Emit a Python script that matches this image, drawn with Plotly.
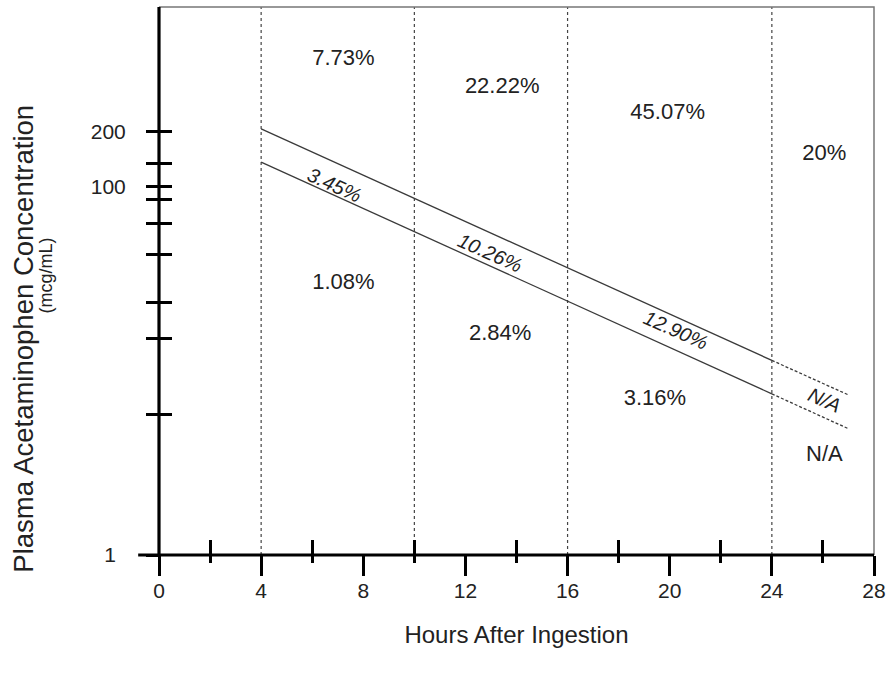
import math
import plotly.graph_objects as go

# ---- data ----
hours_major = [0, 4, 8, 12, 16, 20, 24, 28]
hours_minor = [2, 6, 10, 14, 18, 22, 26]
y_tick_vals = [1, 5.8, 15, 23.4, 43, 63, 85.7, 100, 134, 200]
y_tick_text = ["", "", "", "", "", "", "", "100", "", "200"]
boundary_hours = [4, 10, 16, 24]

line_hours = [4, 24]
ext_hours = [24, 27]
upper_line = [206, 11.4]
upper_ext = [11.4, 7.4]
lower_line = [136, 7.5]
lower_ext = [7.5, 4.85]

region_labels = ["7.73%", "22.22%", "45.07%", "20%", "1.08%", "2.84%", "3.16%", "N/A"]
region_x = [7.22, 13.44, 19.92, 26.05, 7.22, 13.36, 19.42, 26.06]
region_y = [488, 344, 251, 149, 30, 15.7, 7.03, 3.49]

band_labels = ["3.45%", "10.26%", "12.90%", "N/A"]
band_x = [6.87, 12.97, 20.23, 26.06]
band_y = [102, 43.6, 16.7, 6.95]

FONT = "Liberation Sans, Arial, Helvetica, sans-serif"
TXT = "#222222"
LINE = "#3a3a3a"

fig = go.Figure()

fig.add_trace(go.Scatter(x=line_hours, y=upper_line, mode="lines",
                         line=dict(color=LINE, width=1.3), showlegend=False, hoverinfo="skip"))
fig.add_trace(go.Scatter(x=line_hours, y=lower_line, mode="lines",
                         line=dict(color=LINE, width=1.3), showlegend=False, hoverinfo="skip"))
fig.add_trace(go.Scatter(x=ext_hours, y=upper_ext, mode="lines",
                         line=dict(color=LINE, width=1.3, dash="3px,2px"), showlegend=False, hoverinfo="skip"))
fig.add_trace(go.Scatter(x=ext_hours, y=lower_ext, mode="lines",
                         line=dict(color=LINE, width=1.3, dash="3px,2px"), showlegend=False, hoverinfo="skip"))

# region labels
fig.add_trace(go.Scatter(x=region_x, y=region_y, mode="text", text=region_labels,
                         textfont=dict(family=FONT, size=22, color=TXT),
                         showlegend=False, hoverinfo="skip"))

# band labels (italic, rotated) - annotation coords on log axis are log10
for t, bx, by in zip(band_labels, band_x, band_y):
    fig.add_annotation(x=bx, y=math.log10(by), yref="y", xref="x", text="<i>%s</i>" % t,
                       showarrow=False, textangle=24,
                       font=dict(family=FONT, size=20, color=TXT))

# shapes
shapes = []
for h in boundary_hours:
    shapes.append(dict(type="line", xref="x", yref="paper", x0=h, x1=h, y0=0, y1=1,
                       line=dict(color="#444444", width=1.2, dash="dot"), layer="below"))
shapes.append(dict(type="path", xref="paper", yref="paper", path="M 0 1 L 1 1 L 1 0",
                   line=dict(color="#777777", width=1.5)))
shapes.append(dict(type="line", xref="paper", yref="paper", x0=-21/721, x1=1, y0=0, y1=0,
                   line=dict(color="black", width=3.2)))
shapes.append(dict(type="line", xref="paper", yref="paper", x0=0, x1=0, y0=0, y1=1,
                   line=dict(color="black", width=3.2)))

fig.update_layout(
    width=893, height=674,
    margin=dict(l=159, r=13, t=7, b=119),
    paper_bgcolor="white", plot_bgcolor="white",
    shapes=shapes,
    font=dict(family=FONT, color=TXT),
    xaxis=dict(range=[0, 28], tickmode="array", tickvals=hours_major,
               ticktext=[str(h) for h in hours_major],
               ticks="outside", ticklen=20, tickwidth=3, tickcolor="black",
               showgrid=False, zeroline=False, showline=False, ticklabelstandoff=-3,
               tickfont=dict(size=21, family=FONT, color=TXT),
               title=dict(text="Hours After Ingestion", font=dict(size=24, family=FONT, color=TXT), standoff=24)),
    xaxis2=dict(range=[0, 28], overlaying="x", anchor="y", side="bottom",
                tickmode="array", tickvals=hours_minor, ticktext=[""] * len(hours_minor),
                ticks="inside", ticklen=15, tickwidth=3, tickcolor="black",
                showgrid=False, zeroline=False, showline=False),
    xaxis3=dict(range=[0, 28], overlaying="x", anchor="y", side="bottom",
                tickmode="array", tickvals=hours_minor, ticktext=[""] * len(hours_minor),
                ticks="outside", ticklen=7, tickwidth=3, tickcolor="black",
                showgrid=False, zeroline=False, showline=False),
    yaxis=dict(type="log", range=[0, 2.976], tickmode="array", tickvals=y_tick_vals,
               ticktext=y_tick_text, ticks="outside", ticklen=12, tickwidth=3, tickcolor="black",
               showgrid=False, zeroline=False, showline=False, ticklabelstandoff=16,
               tickfont=dict(size=21, family=FONT, color=TXT)),
    yaxis2=dict(type="log", range=[0, 2.976], overlaying="y", anchor="x", side="left",
                tickmode="array", tickvals=y_tick_vals,
                ticktext=["1"] + [""] * (len(y_tick_vals) - 1),
                ticks="inside", ticklen=13, tickwidth=3, tickcolor="black",
                showgrid=False, zeroline=False, showline=False, ticklabelstandoff=42,
                tickfont=dict(size=21, family=FONT, color=TXT)),
)

fig.add_trace(go.Scatter(x=[None], y=[None], xaxis="x2", yaxis="y2", showlegend=False))
fig.add_trace(go.Scatter(x=[None], y=[None], xaxis="x3", yaxis="y", showlegend=False))

# y-axis title (two lines) as annotations
fig.add_annotation(xref="paper", yref="paper", x=-137/721, y=0.395, xanchor="center", yanchor="middle",
                   text="Plasma Acetaminophen Concentration", textangle=-90, showarrow=False,
                   font=dict(size=27.5, family=FONT, color=TXT))
fig.add_annotation(xref="paper", yref="paper", x=-114/721, y=0.51, xanchor="center", yanchor="middle",
                   text="(mcg/mL)", textangle=-90, showarrow=False,
                   font=dict(size=18, family=FONT, color=TXT))

fig.write_html("out.html", config={"displayModeBar": False},
               post_script="document.body.style.margin='0';document.body.style.padding='0';")
